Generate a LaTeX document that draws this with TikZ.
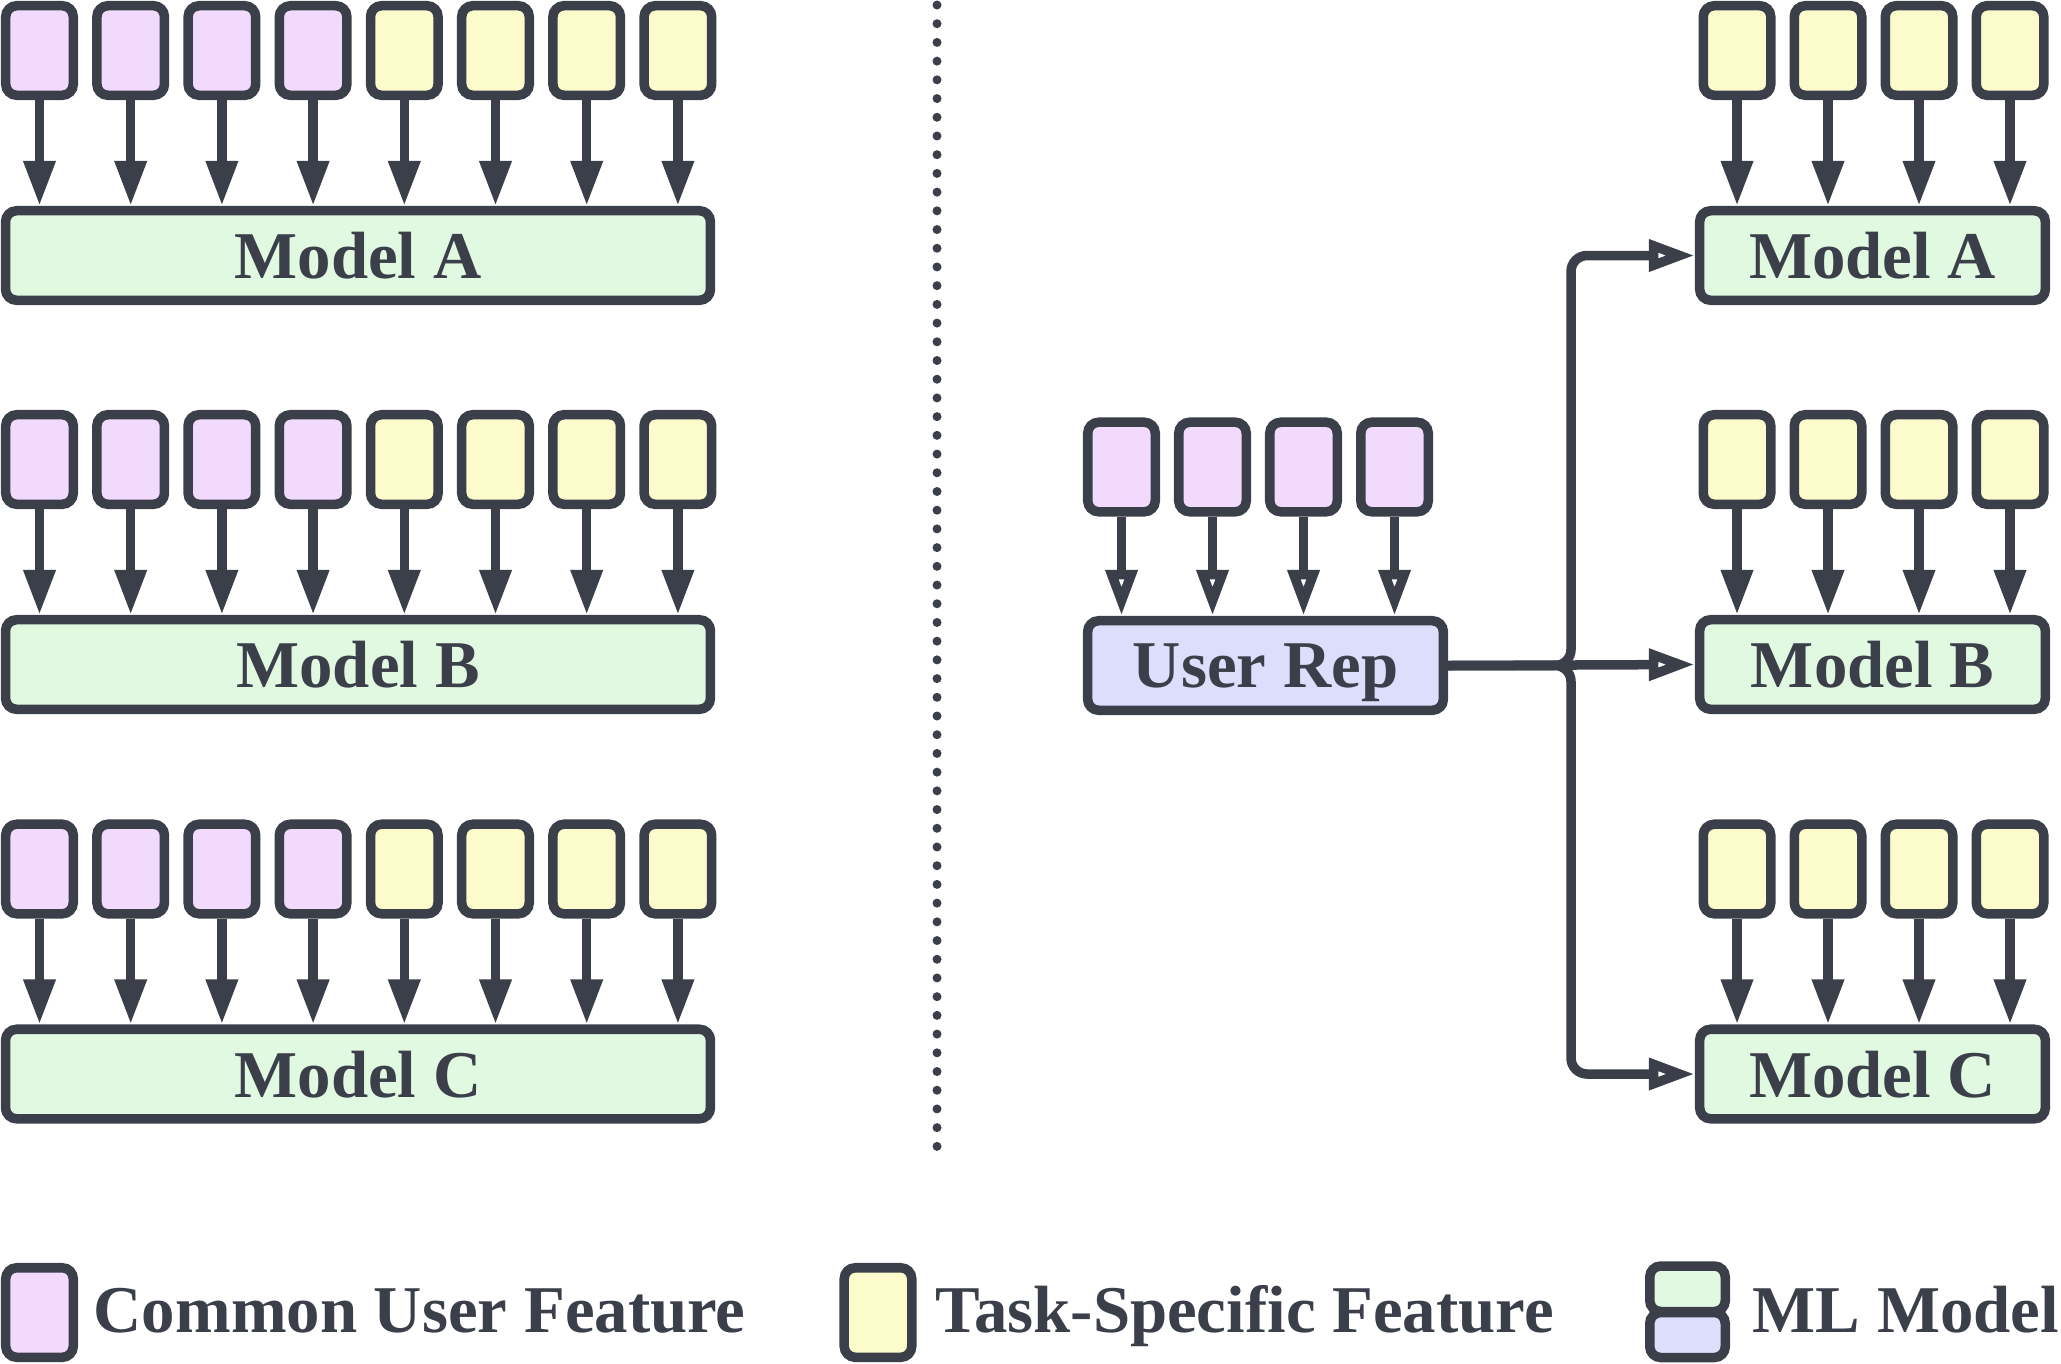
\documentclass[tikz,border=0pt]{standalone}
\usepackage{fontspec}
\setmainfont{Liberation Serif}
\usetikzlibrary{arrows.meta}

\definecolor{edge}{HTML}{3A3F4A}
\definecolor{common}{HTML}{F2DAFD}
\definecolor{task}{HTML}{FCFBCC}
\definecolor{model}{HTML}{E1F9E1}
\definecolor{rep}{HTML}{DDDEFB}

\tikzset{
    feat/.style={draw=edge, line width=0.095cm, rounded corners=0.11cm,
        minimum width=0.675cm, minimum height=0.895cm, inner sep=0pt},
    mdl/.style={draw=edge, line width=0.095cm, rounded corners=0.11cm,
        minimum height=0.895cm, inner sep=0pt, fill=model, text=edge,
        text depth=0pt, font=\bfseries\fontsize{19}{21}\selectfont},
    feed/.style={draw=edge, line width=0.095cm, -{Triangle[length=0.45cm,width=0.3cm]}},
    share/.style={draw=edge, line width=0.095cm, rounded corners=0.16cm,
        -{Triangle[open,length=0.46cm,width=0.3cm]}},
    keytext/.style={anchor=base west, text=edge, inner sep=0pt,
        font=\bfseries\fontsize{19}{21}\selectfont},
}

\begin{document}
\begin{tikzpicture}[x=0.01cm, y=-0.01cm]
    \useasboundingbox (0,0) rectangle (2061,1363);

    % separate models: every model gets all features
    \foreach \r/\y/\lbl in {1/50.5/A, 2/459.5/B, 3/869/C} {
        \node[mdl, minimum width=7.045cm] (lm\r) at (358,\y+205) {Model \lbl};
        \foreach \i in {0,...,3}
            \node[feat, fill=common] (lf\r-\i) at (39.5+91.2*\i,\y) {};
        \foreach \i in {4,...,7}
            \node[feat, fill=task] (lf\r-\i) at (39.5+91.2*\i,\y) {};
        \foreach \i in {0,...,7}
            \draw[feed] (lf\r-\i.south) -- (lf\r-\i.south |- lm\r.north);
    }

    \draw[edge, line width=0.09cm, line cap=round, dash pattern=on 0pt off 0.187cm]
        (937,5) -- (937,1158);

    % shared user representation
    \node[mdl, fill=rep, minimum width=3.555cm] (ur) at (1265.5,665.5) {User Rep};
    \foreach \i in {0,...,3} {
        \node[feat, fill=common] (uf\i) at (1121.5+91*\i,467) {};
        \draw[share] (uf\i.south) -- (uf\i.south |- ur.north);
    }

    \foreach \r/\y/\lbl in {1/50.5/A, 2/459.5/B, 3/869/C} {
        \node[mdl, minimum width=3.455cm] (rm\r) at (1872.5,\y+205) {Model \lbl};
        \foreach \i in {0,...,3} {
            \node[feat, fill=task] (rf\r-\i) at (1737+91*\i,\y) {};
            \draw[feed] (rf\r-\i.south) -- (rf\r-\i.south |- rm\r.north);
        }
    }

    \coordinate (split) at (1571,665.5);
    \draw[share] (ur.east) -- (split) |- (rm1.west);
    \draw[share] (ur.east) -- (rm2.west);
    \draw[share] (ur.east) -- (split) |- (rm3.west);

    % legend
    \node[feat, fill=common] (keyc) at (39.5,1312.5) {};
    \node[keytext] at (93,1332) {Common User Feature};
    \node[feat, fill=task] (keyt) at (878,1312.5) {};
    \node[keytext] at (935,1332) {Task-Specific Feature};
    \node[feat, fill=model, minimum width=0.755cm, minimum height=0.455cm] (keym) at (1687.5,1288.75) {};
    \node[feat, fill=rep, minimum width=0.755cm, minimum height=0.45cm] (keyr) at (1687.5,1335) {};
    \node[keytext] at (1752,1332) {ML Model};
\end{tikzpicture}
\end{document}
